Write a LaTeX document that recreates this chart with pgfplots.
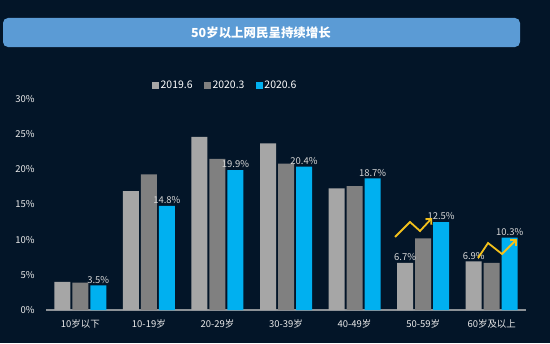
\documentclass[border=0pt]{standalone}
\usepackage{pgfplots}
\pgfplotsset{compat=1.18}
\usepackage{fontspec}
\setmainfont{Noto Sans CJK SC}
\usetikzlibrary{arrows.meta}
\definecolor{bg}{RGB}{3,21,40}
\definecolor{titlebar}{RGB}{91,155,213}
\definecolor{gA}{RGB}{166,166,166}
\definecolor{gB}{RGB}{128,128,128}
\definecolor{cy}{RGB}{0,176,240}
\definecolor{gold}{RGB}{242,192,28}
\definecolor{txt}{RGB}{235,235,235}
\definecolor{lab}{RGB}{215,215,215}
\definecolor{basecol}{RGB}{140,145,150}
\begin{document}
\begin{tikzpicture}[x=1bp,y=1bp]
\fill[bg] (0,0) rectangle (550,343);
\useasboundingbox (0,0) rectangle (550,343);
\fill[titlebar, rounded corners=5bp] (3,296) rectangle (520,325);
\node[text=white,font=\bfseries\fontsize{12.5}{14}\selectfont] at (261,310) {50岁以上网民呈持续增长};
\begin{axis}[
  at={(46bp,33bp)}, anchor=south west,
  scale only axis, width=480bp, height=211bp,
  xmin=-0.5, xmax=6.5, ymin=0, ymax=30,
  ybar, bar width=16bp, clip=false,
  axis x line*=bottom, axis y line*=left,
  y axis line style={draw=none},
  x axis line style={-, draw=basecol, line width=1.5bp},
  major tick length=0,
  xtick={0,...,6},
  xticklabels={10岁以下,10-19岁,20-29岁,30-39岁,40-49岁,50-59岁,60岁及以上},
  ytick={0,5,...,30},
  yticklabels={0\%,5\%,10\%,15\%,20\%,25\%,30\%},
  tick label style={text=txt, font=\fontsize{9.5}{11}\selectfont},
  yticklabel style={xshift=-8bp},
  xticklabel style={yshift=-6bp},
  legend style={at={(0.373,1.062)}, anchor=center, draw=none, fill=none,
    text=white, font=\fontsize{10.5}{12}\selectfont, legend columns=3,
    /tikz/every even column/.append style={column sep=9bp}},
  legend image code/.code={\fill[#1] (0bp,-3.5bp) rectangle (7bp,3.5bp);},
  every node near coord/.append style={text=lab, font=\fontsize{9.5}{11}\selectfont, inner sep=2bp},
]
\addplot[fill=gA, draw=none, bar shift=-18bp, nodes near coords, point meta=explicit symbolic]
  coordinates {(0,4.0) [] (1,16.9) [] (2,24.6) [] (3,23.7) [] (4,17.3) [] (5,6.7) [6.7\%] (6,6.9) [6.9\%]};
\addplot[fill=gB, draw=none, bar shift=0bp]
  coordinates {(0,3.9) (1,19.3) (2,21.5) (3,20.8) (4,17.6) (5,10.2) (6,6.7)};
\addplot[fill=cy, draw=none, bar shift=18bp, nodes near coords, point meta=explicit symbolic]
  coordinates {(0,3.5) [3.5\%] (1,14.8) [14.8\%] (2,19.9) [19.9\%] (3,20.4) [20.4\%] (4,18.7) [18.7\%] (5,12.5) [12.5\%] (6,10.3) [10.3\%]};
\legend{2019.6,2020.3,2020.6}
\end{axis}
\draw[gold, line width=1.8bp, line join=miter, -{Straight Barb[length=4bp,width=8bp]}] (395,106) -- (410,121) -- (420,112) -- (432,125);
\draw[gold, line width=1.8bp, line join=miter, -{Straight Barb[length=4bp,width=8bp]}] (478,85) -- (488,100) -- (502,89) -- (517,104);
\end{tikzpicture}
\end{document}
